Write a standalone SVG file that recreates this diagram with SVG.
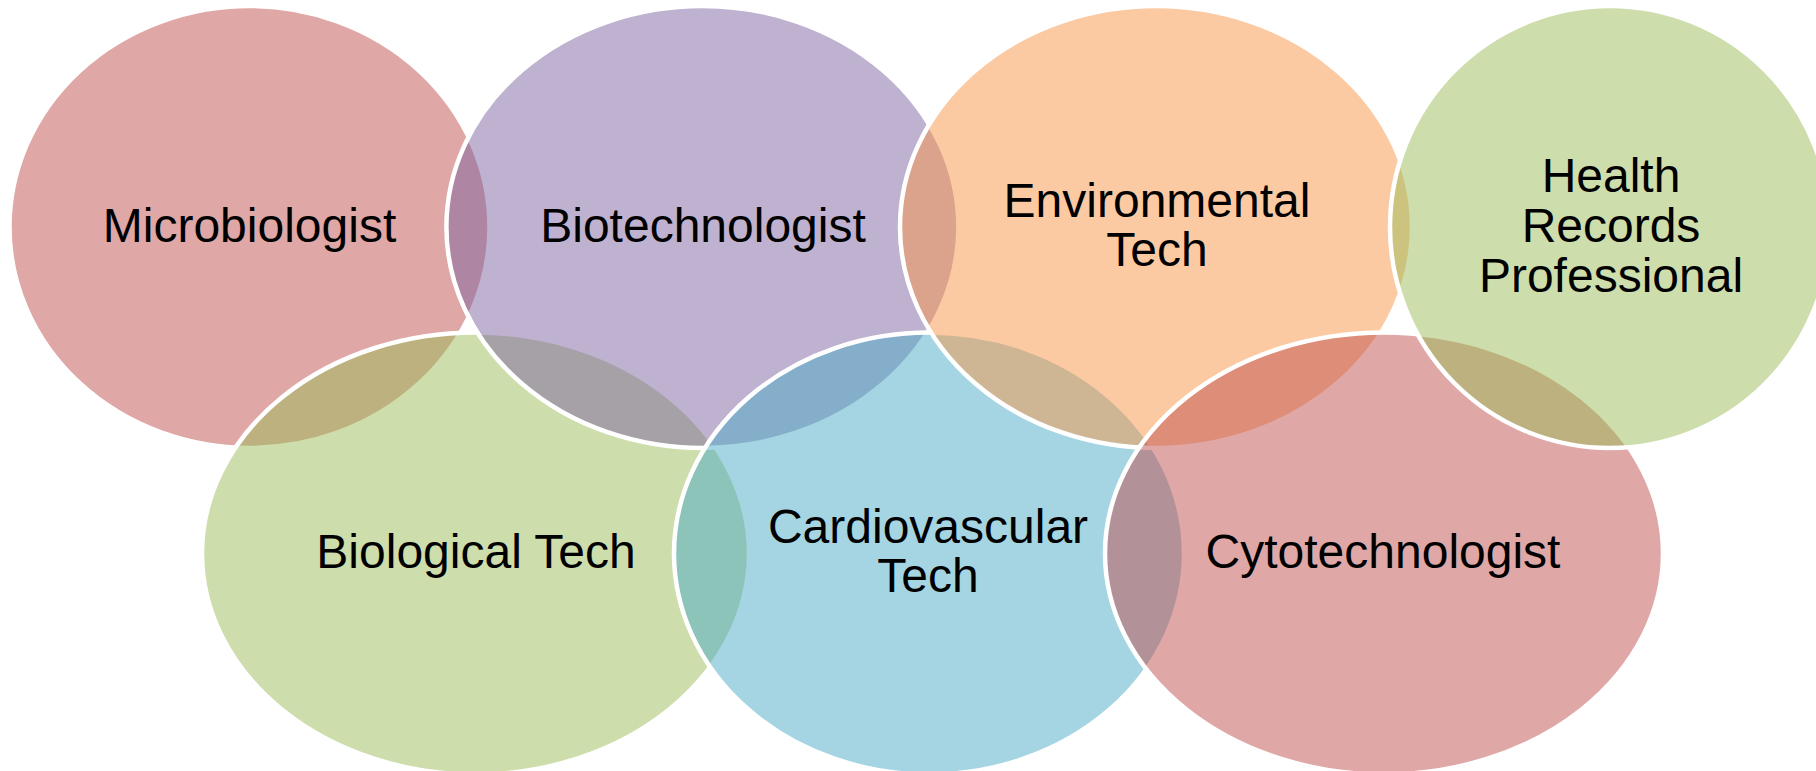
<svg xmlns="http://www.w3.org/2000/svg" width="1816" height="771" viewBox="0 0 1816 771">
  <style>
    .c { fill-opacity: 0.5; stroke: #FFFFFF; stroke-width: 4.5; }
    .red { fill: #C0504D; }
    .purple { fill: #8064A2; }
    .orange { fill: #F79646; }
    .green { fill: #9BBB59; }
    .aqua { fill: #4BACC6; }
    .t { font-family: "Liberation Sans", Arial, sans-serif; font-size: 48px; fill: #000000; text-anchor: middle; }
  </style>
  <rect width="1816" height="771" fill="#FFFFFF"/>
  <g id="connectors"></g>
  <g id="microbiologist">
    <ellipse class="c red" cx="249.5" cy="227" rx="240" ry="221"/>
    <text class="t" x="249.5" y="241.7">Microbiologist</text>
  </g>
  <g id="biological-tech">
    <ellipse class="c green" cx="475.5" cy="553.5" rx="273.5" ry="221"/>
    <text class="t" x="476" y="567.5">Biological Tech</text>
  </g>
  <g id="biotechnologist">
    <ellipse class="c purple" cx="702.4" cy="227" rx="256" ry="221"/>
    <text class="t" x="703" y="241.7">Biotechnologist</text>
  </g>
  <g id="cardiovascular-tech">
    <ellipse class="c aqua" cx="929" cy="553.5" rx="255" ry="221"/>
    <text class="t" x="928" y="543.3">Cardiovascular</text>
    <text class="t" x="928" y="591.7">Tech</text>
  </g>
  <g id="environmental-tech">
    <ellipse class="c orange" cx="1156" cy="227" rx="256" ry="221"/>
    <text class="t" x="1157" y="217.3">Environmental</text>
    <text class="t" x="1157" y="266.1">Tech</text>
  </g>
  <g id="cytotechnologist">
    <ellipse class="c red" cx="1384" cy="553.5" rx="279" ry="221"/>
    <text class="t" x="1383" y="567.5">Cytotechnologist</text>
  </g>
  <g id="health-records-professional">
    <ellipse class="c green" cx="1610" cy="227" rx="220" ry="221"/>
    <text class="t" x="1611" y="191.7">Health</text>
    <text class="t" x="1611" y="241.7">Records</text>
    <text class="t" x="1611" y="291.7">Professional</text>
  </g>
</svg>
